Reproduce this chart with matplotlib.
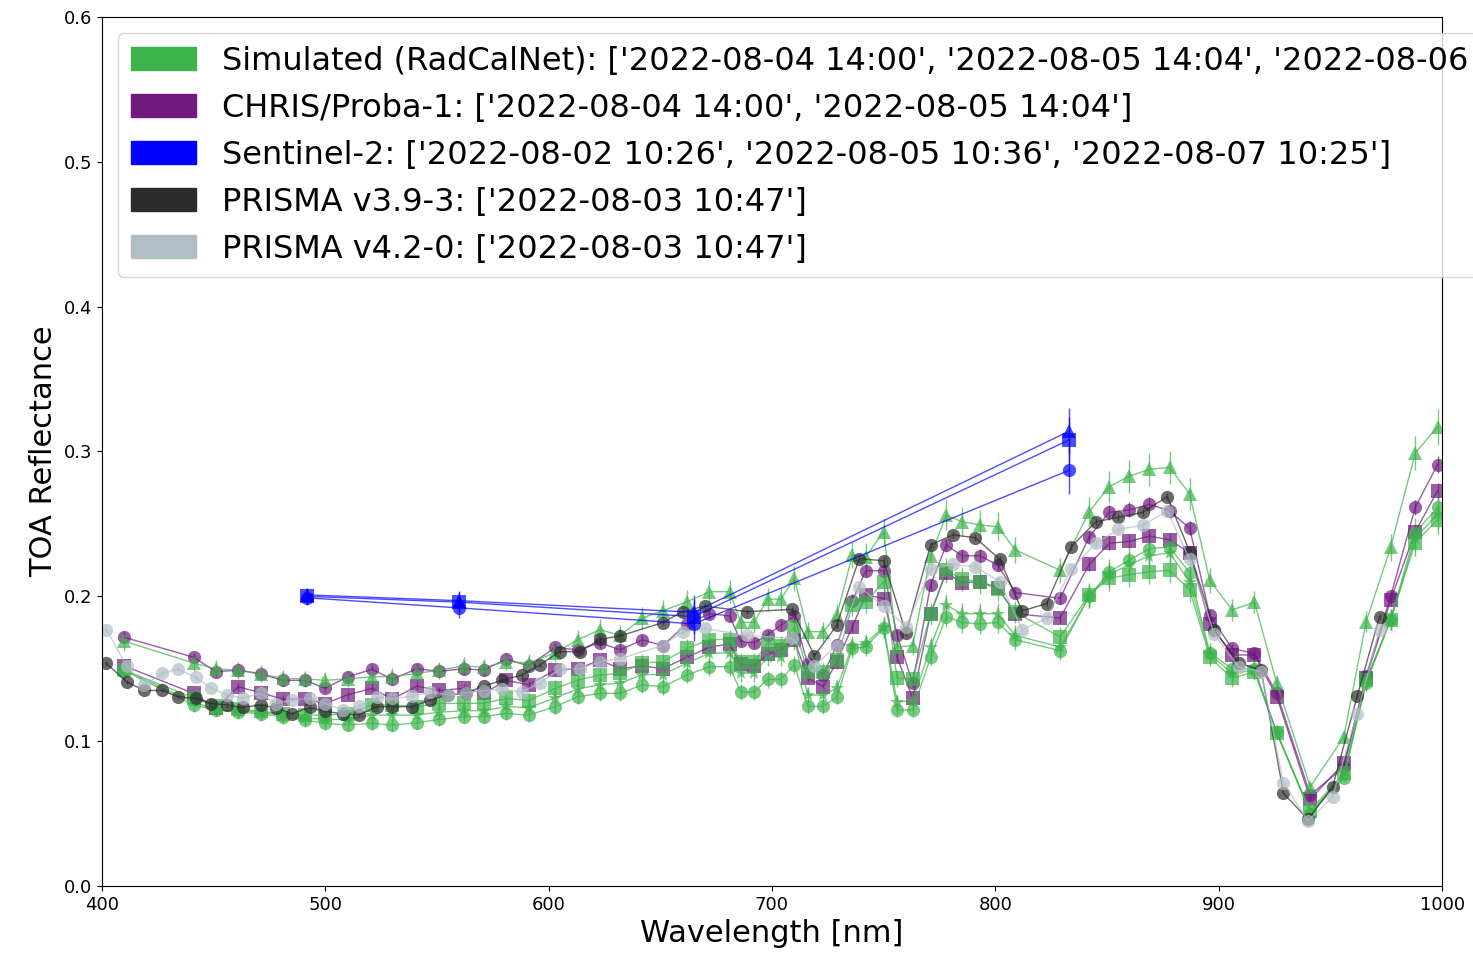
import matplotlib
matplotlib.use('Agg')
import matplotlib.pyplot as plt
import matplotlib.patches as mpatches
import numpy as np

# ---- data ----
# CHRIS/Proba-1 band centres, simulated RadCalNet values share them
chris_wl = [410, 441, 451, 461, 471, 481, 491, 500, 510, 521, 530, 541, 551, 562, 571, 581,
            591, 603, 613, 623, 632, 642, 651, 662, 672, 681, 686, 692, 698, 704, 710, 716,
            723, 729, 736, 742, 750, 756, 763, 771, 778, 785, 793, 801, 809, 829, 842, 851,
            860, 869, 878, 887, 896, 906, 916, 926, 941, 956, 966, 977, 988, 998]

sim_tri = [0.169, 0.154, 0.150, 0.149, 0.1465, 0.1434, 0.143, 0.142, 0.143, 0.1445, 0.1446, 0.1468,
           0.149, 0.152, 0.151, 0.155, 0.154, 0.161, 0.170, 0.177, 0.173, 0.185, 0.190, 0.1963,
           0.2032, 0.2032, 0.182, 0.182, 0.198, 0.198, 0.2125, 0.1756, 0.1756, 0.187, 0.2285, 0.2274,
           0.2446, 0.165, 0.166, 0.228, 0.256, 0.2516, 0.2493, 0.248, 0.232, 0.218, 0.2585, 0.2757,
           0.283, 0.2877, 0.289, 0.2707, 0.211, 0.1906, 0.196, 0.140, 0.0685, 0.103, 0.1825, 0.234,
           0.299, 0.317]
sim_sq = [0.149, 0.130, 0.124, 0.1225, 0.1205, 0.119, 0.118, 0.118, 0.119, 0.125, 0.125, 0.1238,
          0.1261, 0.1261, 0.1261, 0.1296, 0.128, 0.1365, 0.1422, 0.1457, 0.1468, 0.154, 0.1548, 0.164,
          0.1702, 0.1702, 0.1548, 0.1548, 0.1675, 0.166, 0.179, 0.148, 0.148, 0.156, 0.194, 0.196,
          0.210, 0.1434, 0.143, 0.188, 0.218, 0.212, 0.210, 0.205, 0.189, 0.172, 0.201, 0.2125,
          0.215, 0.217, 0.218, 0.2044, 0.158, 0.1434, 0.148, 0.1055, 0.052, 0.078, 0.142, 0.184,
          0.237, 0.253]
sim_circ = [0.1487, 0.125, 0.1215, 0.120, 0.119, 0.1167, 0.1146, 0.1123, 0.1112, 0.1123, 0.1111, 0.1127,
            0.115, 0.1169, 0.117, 0.1192, 0.118, 0.1238, 0.1307, 0.133, 0.133, 0.1388, 0.1376, 0.1457,
            0.1514, 0.1514, 0.134, 0.134, 0.1427, 0.1427, 0.1526, 0.124, 0.124, 0.1307, 0.164, 0.1652,
            0.178, 0.1215, 0.1215, 0.158, 0.186, 0.182, 0.181, 0.182, 0.170, 0.1625, 0.200, 0.217,
            0.225, 0.233, 0.234, 0.2163, 0.161, 0.150, 0.150, 0.106, 0.050, 0.0746, 0.140, 0.184,
            0.244, 0.2615]
sim_star = [0.149, 0.127, 0.122, 0.121, 0.120, 0.118, 0.116, 0.115, 0.115, 0.118, 0.118, 0.118,
            0.120, 0.121, 0.121, 0.124, 0.123, 0.130, 0.136, 0.139, 0.140, 0.146, 0.146, 0.154,
            0.1607, 0.161, 0.147, 0.147, 0.158, 0.158, 0.170, 0.1318, 0.1318, 0.1365, 0.166, 0.1675,
            0.179, 0.127, 0.128, 0.165, 0.194, 0.188, 0.188, 0.188, 0.173, 0.165, 0.200, 0.215,
            0.222, 0.228, 0.230, 0.210, 0.160, 0.147, 0.149, 0.106, 0.051, 0.076, 0.141, 0.184,
            0.240, 0.257]

chris_circ = [0.1717, 0.158, 0.148, 0.149, 0.1465, 0.142, 0.142, 0.1365, 0.1445, 0.1496, 0.1427, 0.150,
              0.1482, 0.150, 0.149, 0.1567, 0.152, 0.1648, 0.163, 0.168, 0.163, 0.170, 0.166, 0.181,
              0.188, 0.1865, 0.169, 0.168, 0.1734, 0.180, 0.1865, 0.153, 0.146, 0.1664, 0.197, 0.2177,
              0.2177, 0.173, 0.140, 0.208, 0.2355, 0.228, 0.228, 0.2217, 0.2026, 0.1986, 0.241, 0.258,
              0.2597, 0.2635, 0.259, 0.247, 0.187, 0.164, 0.1606, 0.133, 0.063, 0.082, 0.145, 0.200,
              0.2615, 0.291]
chris_sq = [0.152, 0.133, 0.1227, 0.1376, 0.1335, 0.129, 0.129, 0.126, 0.132, 0.1365, 0.129, 0.138,
            0.135, 0.1365, 0.133, 0.142, 0.139, 0.149, 0.150, 0.156, 0.150, 0.152, 0.150, 0.158,
            0.165, 0.167, 0.153, 0.152, 0.160, 0.163, 0.170, 0.1436, 0.1376, 0.155, 0.179, 0.201,
            0.1985, 0.158, 0.1295, 0.188, 0.2163, 0.2095, 0.210, 0.206, 0.188, 0.185, 0.222, 0.2366,
            0.238, 0.2416, 0.239, 0.230, 0.181, 0.1595, 0.1595, 0.1307, 0.060, 0.0847, 0.1434, 0.1975,
            0.2446, 0.273]

s2_wl = [492, 560, 665, 833]
s2_circ = [0.199, 0.192, 0.181, 0.287]
s2_sq = [0.200, 0.196, 0.186, 0.308]
s2_tri = [0.201, 0.197, 0.189, 0.314]
s2_err = [0.005, 0.007, 0.012, 0.016]

prisma_wl = [402, 411, 419, 427, 434, 442, 449, 456, 463, 471, 478, 485, 493, 500, 508, 515,
             523, 530, 539, 547, 555, 563, 571, 579, 588, 596, 605, 614, 623, 632, 651, 660,
             670, 689, 709, 719, 729, 739, 750, 760, 771, 781, 791, 802, 812, 823, 834, 845,
             855, 866, 877, 887, 898, 909, 919, 929, 940, 951, 962, 972]
prisma_v39 = [0.1537, 0.141, 0.135, 0.135, 0.1307, 0.1296, 0.126, 0.125, 0.1233, 0.125, 0.123, 0.119,
              0.1233, 0.1205, 0.119, 0.118, 0.1238, 0.1238, 0.1238, 0.1285, 0.132, 0.1335, 0.138, 0.142,
              0.1457, 0.1526, 0.1618, 0.1618, 0.1703, 0.1727, 0.1818, 0.1894, 0.1933, 0.1894, 0.191, 0.159,
              0.180, 0.226, 0.2246, 0.1745, 0.2355, 0.2424, 0.2405, 0.2255, 0.190, 0.195, 0.2343, 0.2515,
              0.2545, 0.258, 0.2689, 0.2308, 0.177, 0.154, 0.149, 0.064, 0.046, 0.0685, 0.131, 0.186]
prisma_v42 = [0.177, 0.152, 0.139, 0.1468, 0.150, 0.144, 0.1365, 0.132, 0.1296, 0.133, 0.126, 0.1284,
              0.1296, 0.126, 0.1215, 0.124, 0.1303, 0.1296, 0.131, 0.134, 0.132, 0.1335, 0.1348, 0.136,
              0.134, 0.1399, 0.1496, 0.150, 0.155, 0.157, 0.166, 0.1755, 0.1778, 0.173, 0.171, 0.152,
              0.166, 0.2067, 0.193, 0.179, 0.2186, 0.222, 0.2205, 0.210, 0.177, 0.1848, 0.219, 0.2366,
              0.2463, 0.249, 0.259, 0.2255, 0.174, 0.151, 0.148, 0.071, 0.045, 0.0616, 0.119, 0.177]

# first label is shown only up to where the reference figure ends
labels = [
    "Simulated (RadCalNet): ['2022-08-04 14:00', '2022-08-05 14:04', '2022-08-06",
    "CHRIS/Proba-1: ['2022-08-04 14:00', '2022-08-05 14:04']",
    "Sentinel-2: ['2022-08-02 10:26', '2022-08-05 10:36', '2022-08-07 10:25']",
    "PRISMA v3.9-3: ['2022-08-03 10:47']",
    "PRISMA v4.2-0: ['2022-08-03 10:47']",
]

C_SIM = '#3cb44b'
C_CHRIS = '#701a7e'
C_S2 = '#0000ff'
C_P39 = '#2b2b2b'
C_P42 = '#b2bec6'

fig = plt.figure(figsize=(14.73, 9.59), dpi=100)
ax = fig.add_axes([0.0692, 0.0761, 0.9098, 0.9062])


def series(x, y, color, marker, rel=0.03, yerr=None, ms=9.5):
    y = np.asarray(y)
    if yerr is None:
        yerr = rel * y
    ax.errorbar(x, y, yerr=yerr, fmt=marker + '-', color=color, ms=ms, lw=1,
                elinewidth=1, alpha=0.7, mew=0)


series(chris_wl, chris_circ, C_CHRIS, 'o', 0.02)
series(chris_wl, chris_sq, C_CHRIS, 's', 0.02)
series(chris_wl, sim_circ, C_SIM, 'o', 0.04)
series(chris_wl, sim_sq, C_SIM, 's', 0.04)
series(chris_wl, sim_star, C_SIM, '*', 0.04, ms=11)
series(chris_wl, sim_tri, C_SIM, '^', 0.04)
series(prisma_wl, prisma_v39, C_P39, 'o', 0.01)
series(prisma_wl, prisma_v42, C_P42, 'o', 0.01)
series(s2_wl, s2_circ, C_S2, 'o', yerr=s2_err)
series(s2_wl, s2_sq, C_S2, 's', yerr=s2_err)
series(s2_wl, s2_tri, C_S2, '^', yerr=s2_err)

ax.set_xlim(400, 1000)
ax.set_ylim(0, 0.6)
ax.set_xticks(np.arange(400, 1001, 100))
ax.set_yticks(np.arange(0, 0.61, 0.1))
ax.tick_params(labelsize=13)
ax.set_xlabel('Wavelength [nm]', fontsize=22)
ax.set_ylabel('TOA Reflectance', fontsize=22)

handles = [mpatches.Patch(color=c) for c in [C_SIM, C_CHRIS, C_S2, C_P39, C_P42]]
ax.legend(handles, labels, loc='upper left', fontsize=23, handlelength=2.05,
          handleheight=0.7)

fig.savefig('out.png', dpi=100)
